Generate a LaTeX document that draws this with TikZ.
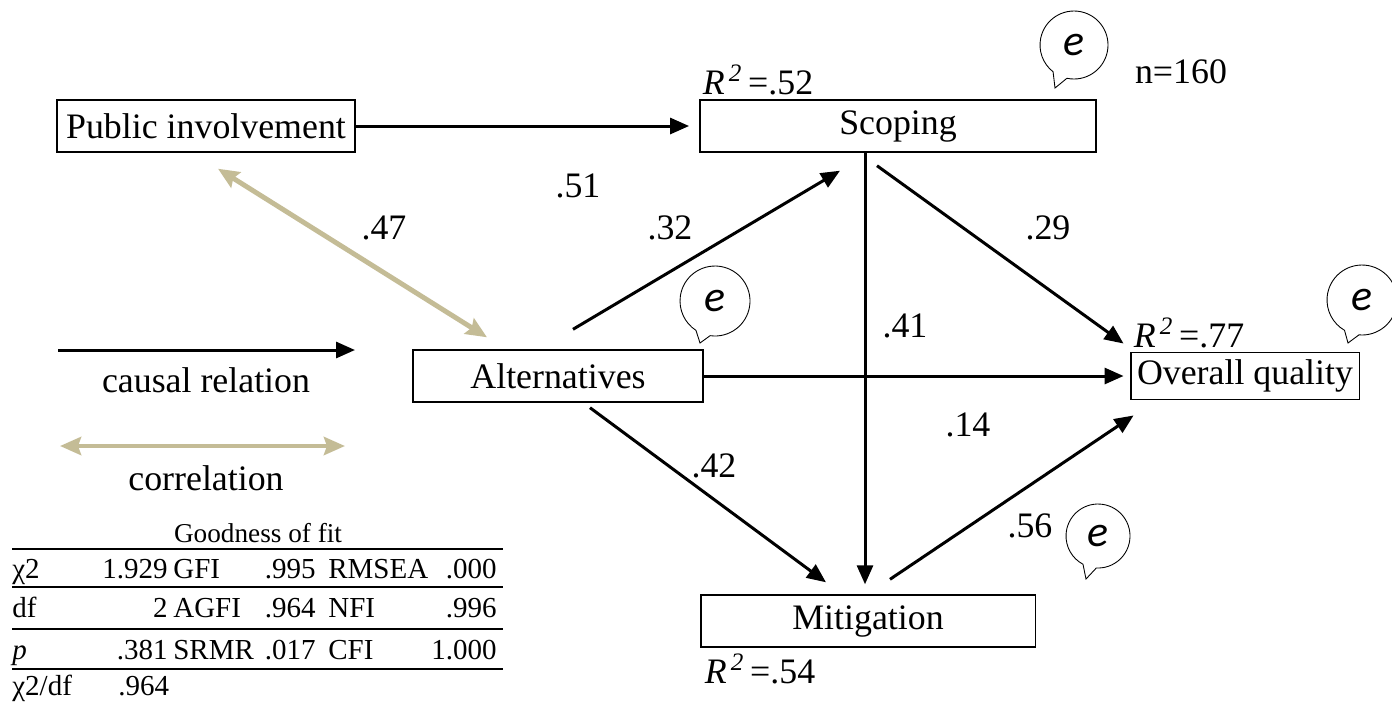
\documentclass[tikz,border=0pt]{standalone}
\usepackage{fontspec}
\setmainfont{Liberation Serif}
\newfontfamily\efont{Carlito}
\usetikzlibrary{arrows.meta,positioning}
\definecolor{corrtan}{RGB}{196,188,150}

% error term: name, centre, radius, tail gap from/to, tail tip
\newcommand\errbubble[6]{%
    \node[err, minimum size=2*#3] (#1) at (#2) {e};
    \draw[line width=0.5pt] (#1.#5) arc[start angle=#5, end angle=#4+360, radius=#3] -- (#6) -- cycle;
}

\begin{document}
\begin{tikzpicture}[x=0.02cm, y=-0.02cm,
        font=\fontsize{20.4}{24}\selectfont,
        var/.style = {draw, line width=1.1pt,
            minimum height=1.03cm, inner sep=0pt},
        causal/.style = {line width=1.7pt,
            -{Triangle[length=0.38cm,width=0.32cm]}},
        corr/.style = {corrtan, line width=2.8pt,
            {Stealth[length=0.42cm,width=0.36cm,inset=0.06cm]}-{Stealth[length=0.42cm,width=0.36cm,inset=0.06cm]}},
        err/.style = {circle, inner sep=0pt, outer sep=0pt,
            font=\efont\itshape\fontsize{25}{29}\selectfont},
        tab/.style = {inner sep=0pt, font=\fontsize{16.5}{19}\selectfont}]

    \useasboundingbox (0,0) rectangle (1392,704);

    % Variables
    \node[var, minimum width=5.96cm] (pub) at (206,126) {Public involvement};
    \node[var, minimum width=7.92cm] (scope) at (898,126) {Scoping};
    \node[var, minimum width=5.80cm] (alt) at (558,376) {Alternatives};
    \node[var, minimum width=4.58cm, minimum height=0.94cm] (qual) at (1245,376) {Overall quality};
    \node[var, minimum width=6.70cm] (mit) at (868,621) {Mitigation};

    % Explained variance
    \node (r2s) at (758,80) {\textit{R}\textsuperscript{\,\itshape 2}\,=.52};
    \node (r2q) at (1189,333) {\textit{R}\textsuperscript{\,\itshape 2}\,=.77};
    \node (r2m) at (760,669) {\textit{R}\textsuperscript{\,\itshape 2}\,=.54};
    \node (n) at (1181,72) {n=160};

    % Error terms
    \errbubble{es}{1074,45}{0.68cm}{232}{258}{1055,88}
    \errbubble{ea}{715,301}{0.70cm}{237}{262}{700,343}
    \errbubble{eq}{1362,300}{0.70cm}{240}{265}{1348,343}
    \errbubble{em}{1098,536}{0.64cm}{242}{267}{1086,579}

    % Paths
    \draw[causal, shorten >=0.2cm] (pub.east) -- (scope.west);
    \draw[corr] ([shift={(12,16)}]pub.south) -- ([shift={(-71,-12)}]alt.north);
    \draw[causal] ([shift={(15,-20)}]alt.north) -- ([shift={(-58,18)}]scope.south);
    \draw[causal] ([shift={(-21,13)}]scope.south) -- ([shift={(-6,-8)}]qual.north west);
    \coordinate (sv) at ([shift={(-33,0)}]scope.south);
    \draw[causal, shorten >=0.2cm] (sv) -- (sv |- mit.north);
    \draw[causal, shorten >=0.12cm] (alt.east) -- (qual.west);
    \draw[causal] ([shift={(32,5)}]alt.south) -- ([shift={(-42,-12)}]mit.north);
    \draw[causal] ([shift={(22,-15)}]mit.north) -- ([shift={(4,15)}]qual.south west);

    % Path coefficients
    \node (c51) at (578,186) {.51};
    \node (c47) at (384,228) {.47};
    \node (c32) at (670,228) {.32};
    \node (c29) at (1048,228) {.29};
    \node (c41) at (905,326) {.41};
    \node (c14) at (968,425) {.14};
    \node (c42) at (714,466) {.42};
    \node (c56) at (1030,526) {.56};

    % Legend
    \coordinate (ca) at (58,350);
    \coordinate (cb) at (355,350);
    \draw[causal] (ca) -- (cb);
    \node (lcausal) at (206,380) {causal relation};
    \coordinate (ra) at (60,446);
    \coordinate (rb) at (345,446);
    \draw[corr] (ra) -- (rb);
    \node (lcorr) at (206,478) {correlation};

    % Goodness of fit
    \node[tab, anchor=base, font=\fontsize{15.5}{18}\selectfont] (gof) at (258,542) {Goodness of fit};
    \draw[line width=1.2pt] (12,549) -- (503,549);
    \node[tab, anchor=base west] (t11) at (12,578) {χ2};
    \node[tab, anchor=base east] (t12) at (168,578) {1.929};
    \node[tab, anchor=base west] (t13) at (173,578) {GFI};
    \node[tab, anchor=base east] (t14) at (316,578) {.995};
    \node[tab, anchor=base west] (t15) at (328,578) {RMSEA};
    \node[tab, anchor=base east] (t16) at (497,578) {.000};
    \draw[line width=1.2pt] (12,587) -- (503,587);
    \node[tab, anchor=base west] (t21) at (12,617) {df};
    \node[tab, anchor=base east] (t22) at (168,617) {2};
    \node[tab, anchor=base west] (t23) at (173,617) {AGFI};
    \node[tab, anchor=base east] (t24) at (316,617) {.964};
    \node[tab, anchor=base west] (t25) at (328,617) {NFI};
    \node[tab, anchor=base east] (t26) at (497,617) {.996};
    \draw[line width=1.2pt] (12,629) -- (503,629);
    \node[tab, anchor=base west] (t31) at (12,659) {\textit{p}};
    \node[tab, anchor=base east] (t32) at (168,659) {.381};
    \node[tab, anchor=base west] (t33) at (173,659) {SRMR};
    \node[tab, anchor=base east] (t34) at (316,659) {.017};
    \node[tab, anchor=base west] (t35) at (328,659) {CFI};
    \node[tab, anchor=base east] (t36) at (497,659) {1.000};
    \draw[line width=1.2pt] (12,669) -- (503,669);
    \node[tab, anchor=base west] (t41) at (12,695) {χ2/df};
    \node[tab, anchor=base west] (t42) at (118,695) {.964};

\end{tikzpicture}
\end{document}
